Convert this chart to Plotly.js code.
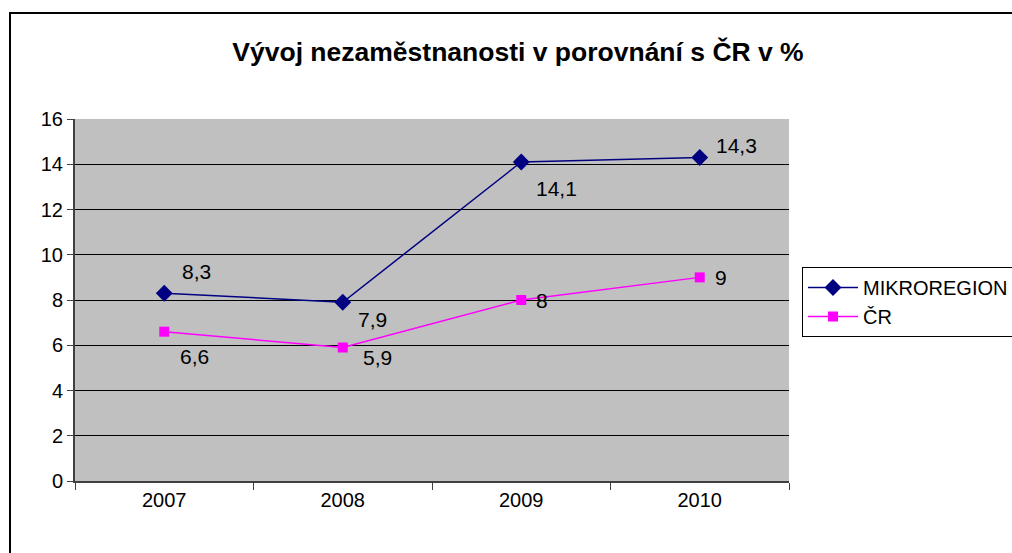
<!DOCTYPE html>
<html>
<head>
<meta charset="utf-8">
<script src="https://cdn.plot.ly/plotly-3.0.1.min.js"></script>
<style>html,body{margin:0;padding:0;background:#fff;}#chart{width:1012px;height:553px;}</style>
</head>
<body>
<div id="chart"></div>
<script>
const years = ['2007', '2008', '2009', '2010'];
const mikroregion = [8.3, 7.9, 14.1, 14.3];
const cr = [6.6, 5.9, 8, 9];
const mikroLabels = ['8,3', '7,9', '14,1', '14,3'];
const crLabels = ['6,6', '5,9', '8', '9'];
const seriesNames = ['MIKROREGION', 'ČR'];
const yTicks = [0, 2, 4, 6, 8, 10, 12, 14, 16];

// label pixel offsets (style only)
const mikroOff = [[32, -22], [30, 17], [35, 27], [37, -12]];
const crOff = [[30, 25], [35, 10], [21, 0], [21, 0]];

const W = 1012, H = 553;
const M = {l: 75, r: 223, t: 119, b: 72, autoexpand: false};
const pw = W - M.l - M.r, ph = H - M.t - M.b;
const FONT = 'Liberation Sans, Arial, sans-serif';

const traces = [
  {x: years, y: mikroregion, name: seriesNames[0], type: 'scatter', mode: 'lines+markers',
   line: {color: '#000080', width: 1.5}, marker: {symbol: 'diamond', size: 13, color: '#000080'}},
  {x: years, y: cr, name: seriesNames[1], type: 'scatter', mode: 'lines+markers',
   line: {color: '#FF00FF', width: 1.5}, marker: {symbol: 'square', size: 10, color: '#FF00FF'}}
];

const annotations = [];
years.forEach((yr, i) => {
  annotations.push({x: i, y: mikroregion[i], xref: 'x', yref: 'y', text: mikroLabels[i], showarrow: false,
    xshift: mikroOff[i][0], yshift: -mikroOff[i][1], font: {family: FONT, size: 21, color: '#000'}});
  annotations.push({x: i, y: cr[i], xref: 'x', yref: 'y', text: crLabels[i], showarrow: false,
    xshift: crOff[i][0], yshift: -crOff[i][1], font: {family: FONT, size: 21, color: '#000'}});
});

// outer border (open at right/bottom edges, as in the reference)
const bx0 = (10 - M.l) / pw, by1 = (H - M.b - 13) / ph;
const bx1 = (W + 20 - M.l) / pw, by0 = (H - M.b - (H + 20)) / ph;

const layout = {
  width: W, height: H,
  margin: M,
  paper_bgcolor: '#FFFFFF',
  plot_bgcolor: '#C0C0C0',
  font: {family: FONT, size: 20, color: '#000'},
  title: {text: '<b>Vývoj nezaměstnanosti v porovnání s ČR v %</b>', font: {family: FONT, size: 26.5, color: '#000'},
          x: 518 / W, xanchor: 'center', y: 1 - 52 / H, yanchor: 'middle'},
  xaxis: {type: 'category', range: [-0.5, 3.5], tickson: 'boundaries', ticks: 'outside', ticklen: 7,
          tickcolor: '#404040', showline: true, linecolor: '#404040', linewidth: 2, showgrid: false,
          tickfont: {family: FONT, size: 20}, fixedrange: true},
  yaxis: {range: [0, 16], tickvals: yTicks, ticks: 'outside', ticklen: 6, tickcolor: '#404040',
          showline: true, linecolor: '#404040', linewidth: 2, showgrid: true, gridcolor: '#000000',
          gridwidth: 1, zeroline: false, tickfont: {family: FONT, size: 20}, fixedrange: true},
  legend: {x: (802 - M.l) / pw, xanchor: 'left', y: (H - M.b - 267) / ph, yanchor: 'top',
           bgcolor: '#FFFFFF', bordercolor: '#000000', borderwidth: 1,
           font: {family: FONT, size: 20}, itemwidth: 50, tracegroupgap: 0},
  annotations: annotations,
  shapes: [{type: 'rect', xref: 'paper', yref: 'paper', x0: bx0, x1: bx1, y0: by0, y1: by1,
            line: {color: '#000', width: 2}, fillcolor: 'rgba(0,0,0,0)', layer: 'below'}],
  showlegend: true
};

Plotly.newPlot('chart', traces, layout, {displayModeBar: false, staticPlot: true});
</script>
</body>
</html>
